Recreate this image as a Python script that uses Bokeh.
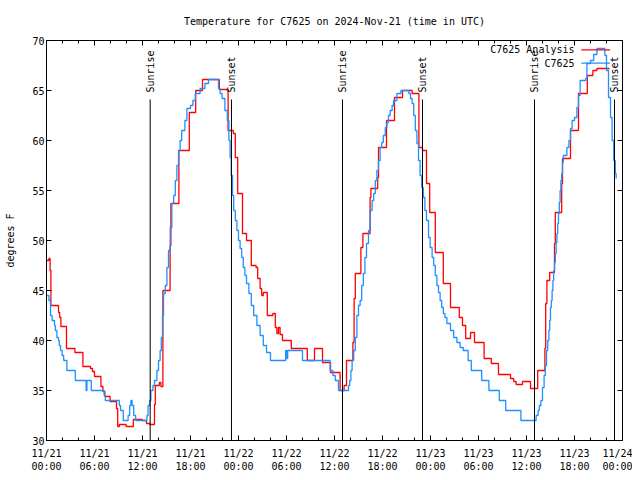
import math
from bokeh.plotting import figure
from bokeh.models import Range1d, LinearAxis, FixedTicker
from bokeh.core.properties import value
from bokeh.embed import file_html
from bokeh.resources import INLINE

FONT = "DejaVu Sans Mono"

title_text = "Temperature for C7625 on 2024-Nov-21 (time in UTC)"
y_label = "degrees F"

# hours since 2024-11-21 00:00 UTC
tick_hours = [0, 6, 12, 18, 24, 30, 36, 42, 48, 54, 60, 66, 72]
tick_labels = ["11/21\n00:00", "11/21\n06:00", "11/21\n12:00", "11/21\n18:00",
               "11/22\n00:00", "11/22\n06:00", "11/22\n12:00", "11/22\n18:00",
               "11/23\n00:00", "11/23\n06:00", "11/23\n12:00", "11/23\n18:00",
               "11/24\n00:00"]
minor_hours = [h for h in range(0, 73, 2) if h % 6 != 0]
y_ticks = [30, 35, 40, 45, 50, 55, 60, 65, 70]

series_names = ["C7625 Analysis", "C7625"]

analysis_hours = [0.0, 0.3, 0.45, 0.55, 1.5, 1.65, 1.8, 2.5, 3.55, 4.55, 5.5, 5.75, 6.0,
                  6.8, 7.05, 7.3, 7.95, 8.75, 8.9, 9.1, 9.95, 10.85, 12.0, 12.5, 12.9,
                  13.5, 13.6, 14.1, 14.3, 14.55, 15.45, 15.55, 16.55, 17.85, 18.65, 19.5,
                  21.6, 22.7, 23.35, 23.6, 23.9, 24.5, 25.0, 25.6, 26.2, 26.4, 26.7, 26.9,
                  27.1, 27.6, 28.3, 28.6, 28.8, 29.0, 29.2, 29.5, 30.6, 32.6, 33.5, 34.5,
                  35.5, 36.7, 37.2, 37.5, 38.3, 38.45, 38.6, 39.3, 39.55, 40.45, 40.55,
                  41.4, 41.5, 42.5, 43.5, 44.5, 45.7, 46.55, 47.0, 47.5, 47.9, 48.6, 49.6,
                  50.5, 51.6, 52.0, 52.4, 53.0, 53.5, 54.7, 55.6, 56.5, 58.0, 58.4, 58.7,
                  59.5, 60.5, 61.4, 62.3, 62.4, 62.55, 62.9, 63.5, 63.6, 64.4, 64.5, 65.5,
                  66.5, 67.6, 68.3, 68.8, 70.3]
analysis_temps = [48.0, 48.2, 47.0, 43.5, 42.8, 42.3, 41.4, 39.2, 38.8, 37.4, 37.2, 36.9, 36.4,
                  35.4, 34.9, 34.4, 33.9, 33.2, 31.4, 31.6, 31.4, 32.1, 32.0, 31.7, 31.6,
                  33.6, 35.5, 35.8, 35.4, 45.0, 49.5, 53.7, 59.0, 62.8, 65.0, 66.1,
                  65.1, 61.0, 60.7, 58.3, 54.7, 50.7, 50.0, 47.5, 47.3, 46.2, 45.2, 44.5,
                  44.8, 42.5, 42.7, 41.3, 40.7, 41.3, 40.6, 40.0, 39.2, 38.0, 39.2, 37.8,
                  36.8, 35.0, 35.5, 38.0, 39.8, 44.2, 46.7, 49.3, 50.7, 54.3, 55.2,
                  56.3, 59.3, 62.0, 64.3, 65.0, 64.7, 59.3, 59.0, 55.7, 52.8, 48.8, 45.7,
                  43.3, 42.3, 41.5, 40.2, 40.8, 39.8, 38.2, 37.7, 36.6, 36.2, 35.9, 35.6,
                  35.9, 35.2, 37.0, 39.2, 43.7, 46.0, 46.8, 49.7, 52.8, 55.7, 58.2, 61.0,
                  64.7, 66.5, 67.0, 67.2, 67.1]

obs_hours = [0.0, 0.3, 0.5, 0.7, 1.0, 1.1, 1.3, 1.5, 1.6, 1.75, 1.95, 2.15, 2.55, 3.6,
             4.95, 5.05, 5.6, 7.2, 7.35, 9.1, 9.25, 9.6, 10.2, 10.4, 10.55, 10.7, 10.9,
             11.15, 12.55, 12.7, 12.9, 13.05, 13.3, 13.5, 13.8, 14.0, 14.2, 14.35, 14.5,
             14.63, 14.85, 15.05, 15.25, 15.46, 15.67, 15.9, 16.1, 16.3, 16.5, 16.7, 16.9,
             17.3, 17.55, 18.0, 18.3, 18.6, 19.2, 19.8, 20.25, 21.5, 21.7, 21.95, 22.3,
             22.6, 22.8, 22.95, 23.1, 23.25, 23.4, 23.6, 23.8, 24.0, 24.2, 24.4, 24.6,
             24.8, 25.0, 25.3, 25.6, 25.9, 26.3, 26.7, 27.1, 27.5, 28.0, 29.9, 30.05,
             30.15, 32.0, 35.45, 35.8, 36.1, 36.5, 37.75, 37.9, 38.05, 38.2, 38.4, 38.6,
             38.8, 39.0, 39.2, 39.4, 39.6, 39.8, 40.0, 40.25, 40.45, 40.7, 40.9, 41.1,
             41.3, 41.5, 41.7, 41.9, 42.1, 42.35, 42.55, 42.75, 42.96, 43.2, 43.4, 43.8,
             44.3, 45.3, 45.5, 45.7, 45.9, 46.1, 46.3, 46.5, 46.7, 46.9, 47.1, 47.3, 47.5,
             47.75, 47.96, 48.2, 48.4, 48.6, 48.8, 49.0, 49.2, 49.4, 49.6, 49.8, 50.05,
             50.5, 50.9, 51.3, 51.7, 52.1, 52.7, 53.1, 54.4, 55.3, 56.6, 57.4, 59.3, 61.2,
             61.45, 61.6, 61.8, 62.0, 62.2, 62.35, 62.5, 62.65, 62.8, 62.9, 63.0, 63.1,
             63.2, 63.3, 63.4, 63.5, 63.6, 63.7, 63.8, 63.9, 64.0, 64.1, 64.2, 64.3, 64.4,
             64.5, 64.6, 65.05, 65.3, 65.5, 65.7, 66.0, 66.3, 66.5, 66.7, 67.4, 67.55,
             68.0, 68.4, 68.8, 69.6, 69.8, 70.0, 70.25, 70.5, 70.7, 70.9, 71.1, 71.2]
obs_temps = [44.5, 44.0, 42.5, 42.0, 41.5, 41.0, 40.3, 40.0, 39.5, 39.0, 38.5, 38.0, 37.0, 36.0,
             35.0, 36.0, 35.0, 34.5, 34.0, 33.5, 33.0, 32.0, 32.5, 33.5, 34.0, 33.5, 32.5,
             32.0, 32.5, 33.5, 34.0, 35.0, 35.5, 36.0, 37.0, 38.0, 39.0, 40.3, 42.5,
             44.7, 45.5, 47.3, 49.0, 51.3, 53.7, 54.5, 56.0, 57.5, 59.0, 60.0, 61.0,
             62.0, 63.2, 63.5, 64.0, 64.7, 65.2, 65.7, 66.1, 65.2, 64.7, 64.2, 63.0,
             62.0, 60.0, 58.3, 56.5, 54.5, 53.0, 52.0, 51.0, 50.0, 49.2, 48.3, 47.3,
             46.5, 45.7, 44.7, 43.5, 42.5, 41.5, 40.5, 39.5, 38.8, 38.0, 39.0, 38.2,
             39.0, 38.0, 37.0, 36.5, 36.0, 35.0, 35.5, 36.0, 37.0, 38.0, 39.0, 40.3,
             42.5, 43.5, 44.0, 45.5, 46.7, 48.3, 49.7, 51.0, 53.0, 54.0, 54.7, 56.0,
             57.0, 58.0, 59.3, 59.8, 60.5, 61.3, 61.8, 62.5, 63.0, 63.5, 64.0, 64.7,
             65.0, 64.7, 64.2, 63.7, 62.5, 61.0, 59.7, 58.0, 56.5, 55.3, 54.3, 53.0, 52.0,
             50.3, 49.3, 48.3, 47.5, 46.5, 45.5, 44.8, 44.0, 43.3, 42.7, 42.3, 41.7,
             41.0, 40.3, 39.8, 39.3, 39.0, 38.0, 37.0, 36.0, 35.0, 34.0, 33.0, 32.0, 32.5,
             33.0, 33.5, 34.0, 35.3, 36.5, 37.5, 39.0, 40.0, 41.0, 42.0, 43.3, 44.0,
             45.0, 46.0, 47.0, 47.8, 48.7, 49.8, 50.7, 51.7, 52.7, 53.8, 55.0, 56.0, 56.7,
             57.8, 58.5, 59.3, 60.0, 61.2, 62.0, 62.3, 63.3, 64.5, 66.0, 66.2, 67.7,
             68.0, 68.6, 69.2, 69.2, 68.5, 67.0, 64.3, 62.3, 60.0, 58.0, 56.7, 56.2]

event_hours = [12.96, 23.12, 37.0, 47.0, 61.0, 71.0]
event_names = ["Sunrise", "Sunset", "Sunrise", "Sunset", "Sunrise", "Sunset"]

RED = "#ff0000"
BLUE = "#1e90ff"

p = figure(width=632, height=476, x_range=Range1d(0, 72), y_range=Range1d(30, 70),
           output_backend="svg", toolbar_location=None,
           x_axis_type=None, y_axis_type=None,
           min_border_left=46, min_border_right=10, min_border_top=40, min_border_bottom=36)
p.grid.visible = False
p.outline_line_color = "black"
p.outline_line_width = 1
p.background_fill_color = "white"
p.border_fill_color = "white"

p.title.text = title_text
p.title.align = "center"
p.title.text_font = FONT
p.title.text_font_size = "10px"
p.title.text_font_style = "normal"
p.title.text_color = "black"
p.title.standoff = 27


def xaxis(show_labels):
    ax = LinearAxis(ticker=FixedTicker(ticks=tick_hours, minor_ticks=minor_hours),
                    major_tick_in=5, major_tick_out=0, minor_tick_in=3, minor_tick_out=0,
                    axis_line_color="black", major_tick_line_color="black",
                    minor_tick_line_color="black",
                    major_label_text_font=FONT, major_label_text_font_size="10px",
                    major_label_text_color="black")
    if show_labels:
        ax.major_label_overrides = {h: lab for h, lab in zip(tick_hours, tick_labels)}
        ax.major_label_standoff = 7
    else:
        ax.major_label_overrides = {h: "" for h in tick_hours}
        ax.major_label_standoff = 0
    return ax


def yaxis(show_labels):
    ax = LinearAxis(ticker=FixedTicker(ticks=y_ticks, minor_ticks=[]),
                    major_tick_in=5, major_tick_out=0, minor_tick_in=0, minor_tick_out=0,
                    axis_line_color="black", major_tick_line_color="black",
                    major_label_text_font=FONT, major_label_text_font_size="10px",
                    major_label_text_color="black")
    if show_labels:
        ax.major_label_standoff = 2
        ax.axis_label = y_label
        ax.axis_label_text_font = FONT
        ax.axis_label_text_font_size = "10px"
        ax.axis_label_text_font_style = "normal"
        ax.axis_label_text_color = "black"
        ax.axis_label_standoff = 13
    else:
        ax.major_label_overrides = {t: "" for t in y_ticks}
        ax.major_label_standoff = 0
    return ax


p.add_layout(xaxis(True), "below")
p.add_layout(xaxis(False), "above")
p.add_layout(yaxis(True), "left")
p.add_layout(yaxis(False), "right")

# data
p.step(analysis_hours, analysis_temps, mode="after", line_color=RED, line_width=1.3)
p.step(obs_hours, obs_temps, mode="after", line_color=BLUE, line_width=1.3)

# sunrise / sunset markers
line_top = 64.1
p.segment(x0=event_hours, y0=[30] * len(event_hours), x1=event_hours,
          y1=[line_top] * len(event_hours), line_color="black", line_width=1)
p.text(x=event_hours, y=[64.8] * len(event_hours), text=event_names, angle=math.pi / 2,
       text_align="left", text_baseline="middle", text_font=value(FONT),
       text_font_size="10px", text_color="black")

# gnuplot-style key (text then sample)
key_rows_y = [69.07, 67.73]
key_colors = [RED, BLUE]
p.text(x=[66.0, 66.0], y=key_rows_y, text=series_names, text_align="right",
       text_baseline="middle", text_font=value(FONT), text_font_size="10px",
       text_color="black")
p.segment(x0=[66.85, 66.85], y0=key_rows_y, x1=[70.45, 70.45], y1=key_rows_y,
          line_color=key_colors, line_width=1.3)

open("out.html", "w").write(file_html(p, INLINE))
